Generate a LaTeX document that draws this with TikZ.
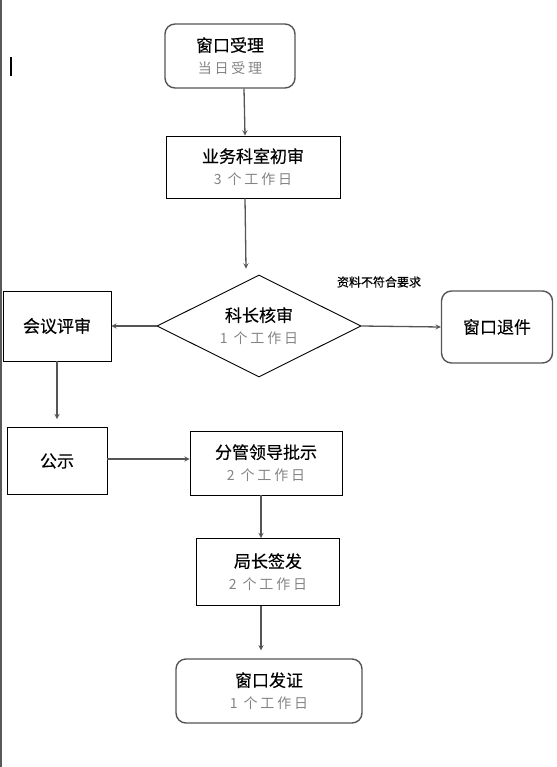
\documentclass[tikz,border=0pt]{standalone}
\usepackage{fontspec}
\usepackage{tikz}
\usetikzlibrary{shapes.geometric}
\newfontfamily\cjk[FakeBold=0.3]{Noto Sans CJK SC}
\newfontfamily\notefont[FakeBold=0.6]{Noto Sans CJK SC}
\newfontfamily\subfont[LetterSpace=20]{Noto Sans CJK SC}
\definecolor{linegray}{HTML}{555555}
\definecolor{subgray}{HTML}{848484}
\newcommand{\subtext}{\color{subgray}\fontsize{14}{22}\subfont}

\begin{document}
\begin{tikzpicture}[x=1pt, y=-1pt, >=stealth,
  every node/.style={font=\fontsize{17}{22}\selectfont\cjk, align=center},
  stepbox/.style={rectangle, draw=black, line width=0.9pt, inner sep=0pt},
  roundbox/.style={rectangle, draw=linegray, line width=1.4pt, rounded corners=10pt, inner sep=0pt},
  arr/.style={->, draw=linegray, line width=1.3pt}]

\useasboundingbox (0,0) rectangle (556,767);

% Page edge and cursor
\draw[line width=2pt, draw=gray!70!black] (1,0) -- (1,767);
\draw[line width=2pt] (11,57) -- (11,76);

% Main column
\node[roundbox, minimum width=130pt, minimum height=64pt] at (230,56) (accept) {窗口受理\\{\subtext 当日受理}};
\node[stepbox, minimum width=174pt, minimum height=62pt] at (253,167) (prelim) {业务科室初审\\{\subtext 3 个工作日}};
\node[diamond, aspect=2, draw=black, line width=0.9pt, inner sep=0pt, minimum width=204pt, minimum height=102pt] at (259,326) (chief) {科长核审\\{\subtext 1 个工作日}};

% Side branches
\node[stepbox, minimum width=108pt, minimum height=70pt] at (57,326) (meeting) {会议评审};
\node[roundbox, minimum width=111pt, minimum height=72pt] at (497,327) (reject) {窗口退件};
\node[font=\fontsize{12}{14}\selectfont\notefont] at (379,282) (cond) {资料不符合要求};

% Lower part
\node[stepbox, minimum width=100pt, minimum height=67pt] at (57,461) (publicize) {公示};
\node[stepbox, minimum width=152pt, minimum height=64pt] at (266,463) (leader) {分管领导批示\\{\subtext 2 个工作日}};
\node[stepbox, minimum width=143pt, minimum height=67pt] at (268,572) (director) {局长签发\\{\subtext 2 个工作日}};
\node[roundbox, minimum width=186pt, minimum height=64pt] at (269,691) (issue) {窗口发证\\{\subtext 1 个工作日}};

% Connections
\draw[arr] ([xshift=14pt]accept.south) -- ([xshift=-8pt]prelim.north);
\draw[arr] ([xshift=-8pt]prelim.south) -- ([xshift=-13pt,yshift=6pt]chief.north);
\draw[arr] (chief.west) -- (meeting.east);
\draw[arr] (chief.east) -- (reject.west);
\draw[arr] (meeting.south) -- ([yshift=8pt]publicize.north);
\draw[arr] ([yshift=2pt]publicize.east) -- ([yshift=2pt]publicize.east -| leader.west);
\draw[arr] ([xshift=-5pt]leader.south) -- ([xshift=-7pt]director.north);
\draw[arr] ([xshift=-7pt]director.south) -- ([xshift=-8pt,yshift=8pt]issue.north);

\end{tikzpicture}
\end{document}
